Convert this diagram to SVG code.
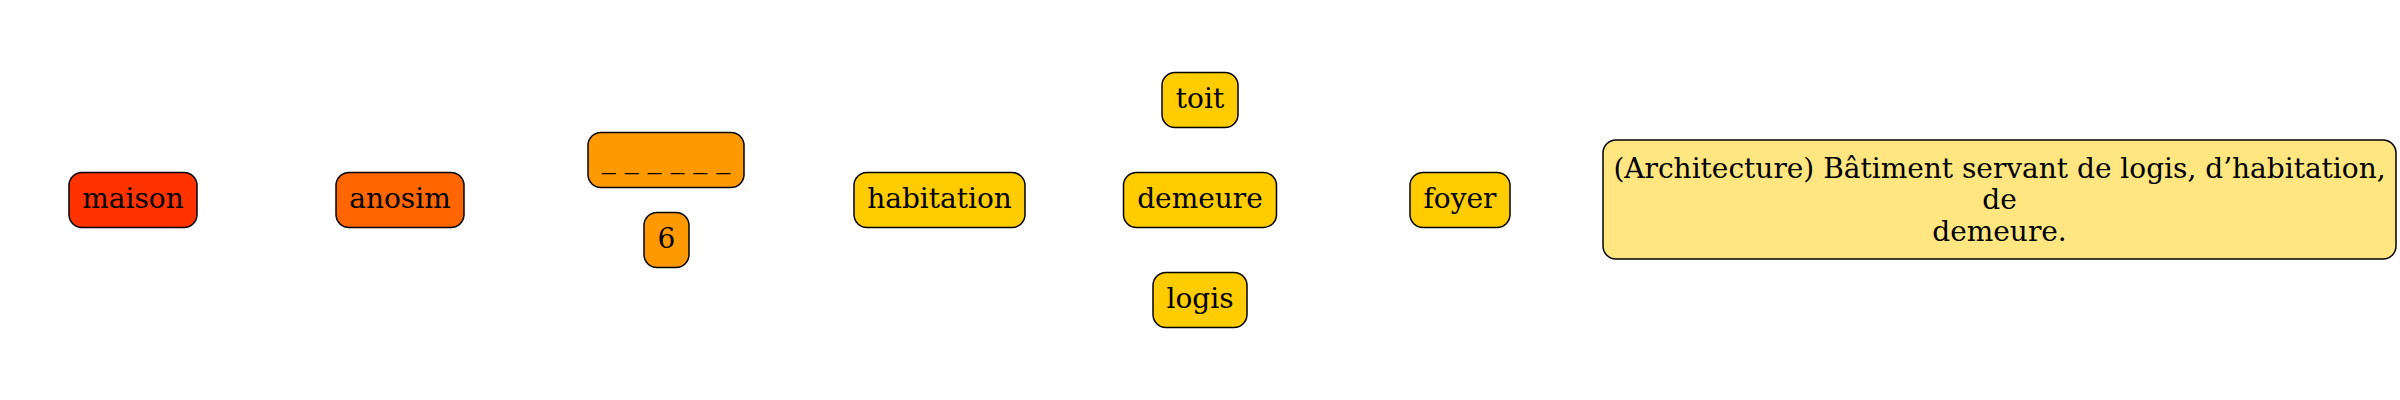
<svg xmlns="http://www.w3.org/2000/svg" width="2400" height="400" viewBox="0 0 2400 400">
<style>
.box{stroke:#000;stroke-width:1.5}
.t{font-family:"DejaVu Serif","Liberation Serif",serif;font-size:28px;fill:#000;text-anchor:middle}
.c1{fill:#ff3300}.c2{fill:#ff6600}.c3{fill:#ff9900}.c4{fill:#ffcc00}.c5{fill:#ffe680}
</style>
<rect width="2400" height="400" fill="#fff"/>
<g id="connectors"></g>
<g id="maison"><rect class="box c1" x="69" y="172.5" width="128" height="55" rx="13"/><text class="t" x="133" y="208">maison</text></g>
<g id="anosim"><rect class="box c2" x="336" y="172.5" width="128" height="55" rx="13"/><text class="t" x="400" y="208">anosim</text></g>
<g id="blanks"><rect class="box c3" x="588" y="132.5" width="156" height="55" rx="13"/><text class="t" x="666" y="168">_ _ _ _ _ _</text></g>
<g id="six"><rect class="box c3" x="644" y="212.5" width="45" height="55" rx="13"/><text class="t" x="666.5" y="248">6</text></g>
<g id="habitation"><rect class="box c4" x="854" y="172.5" width="171" height="55" rx="13"/><text class="t" x="939.5" y="208">habitation</text></g>
<g id="toit"><rect class="box c4" x="1162" y="72.5" width="76" height="55" rx="13"/><text class="t" x="1200" y="108">toit</text></g>
<g id="demeure"><rect class="box c4" x="1123.5" y="172.5" width="153" height="55" rx="13"/><text class="t" x="1200" y="208">demeure</text></g>
<g id="logis"><rect class="box c4" x="1153" y="272.5" width="94" height="55" rx="13"/><text class="t" x="1200" y="308">logis</text></g>
<g id="foyer"><rect class="box c4" x="1410" y="172.5" width="100" height="55" rx="13"/><text class="t" x="1460" y="208">foyer</text></g>
<g id="definition"><rect class="box c5" x="1603" y="140" width="793" height="119" rx="13"/><text class="t" x="1999.5" y="177.5">(Architecture) Bâtiment servant de logis, d’habitation,</text><text class="t" x="1999.5" y="209">de</text><text class="t" x="1999.5" y="240.5">demeure.</text></g>
</svg>
